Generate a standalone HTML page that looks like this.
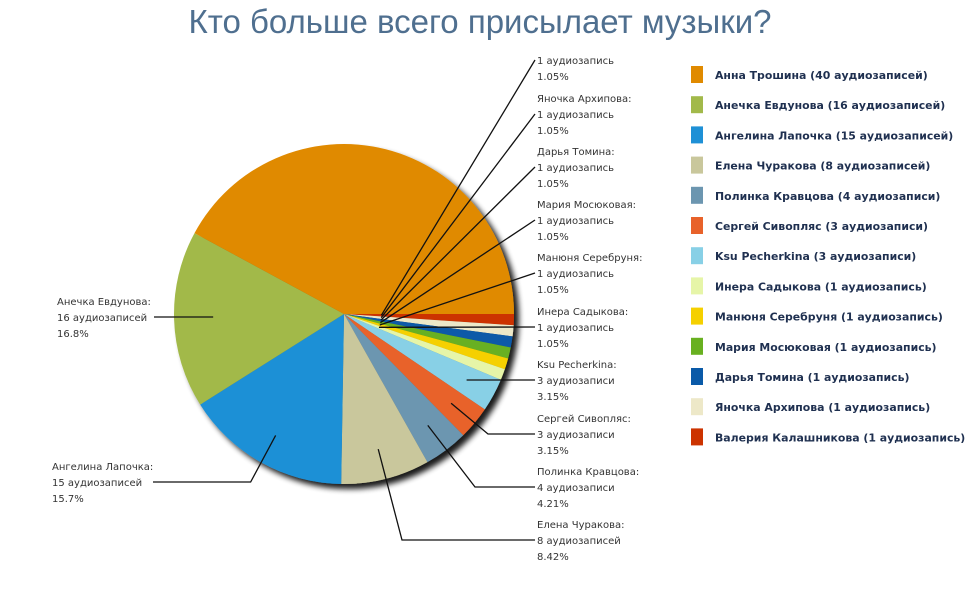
<!DOCTYPE html>
<html><head><meta charset="utf-8">
<style>
body{margin:0;background:#fff;width:966px;height:604px;overflow:hidden;font-family:"DejaVu Sans","Liberation Sans",sans-serif;}
svg{display:block}
</style></head>
<body>
<svg id="chart" width="966" height="604">
<defs>
<filter id="sh" x="-20%" y="-20%" width="150%" height="150%">
<feGaussianBlur in="SourceAlpha" stdDeviation="3"/>
<feOffset dx="5" dy="5" result="b"/>
<feComponentTransfer><feFuncA type="linear" slope="0.9"/></feComponentTransfer>
<feMerge><feMergeNode/><feMergeNode in="SourceGraphic"/></feMerge>
</filter>
</defs>
<text x="480" y="33" text-anchor="middle" font-family="Liberation Sans, sans-serif" font-size="33" fill="#4f6f8f">Кто больше всего присылает музыки?</text>
<g id="pie" filter="url(#sh)"></g>
<g id="lines"></g>
<g id="labels"></g>
<g id="legend"></g>
</svg>
<script>
const names = ["Анна Трошина","Анечка Евдунова","Ангелина Лапочка","Елена Чуракова","Полинка Кравцова","Сергей Сивопляс","Ksu Pecherkina","Инера Садыкова","Манюня Серебруня","Мария Мосюковая","Дарья Томина","Яночка Архипова","Валерия Калашникова"];
const values = [40,16,15,8,4,3,3,1,1,1,1,1,1];
const countLabels = ["40 аудиозаписей","16 аудиозаписей","15 аудиозаписей","8 аудиозаписей","4 аудиозаписи","3 аудиозаписи","3 аудиозаписи","1 аудиозапись","1 аудиозапись","1 аудиозапись","1 аудиозапись","1 аудиозапись","1 аудиозапись"];
const colors = ["#e08a00","#a2b94a","#1e90d6","#c9c79c","#6c96b0","#e8622a","#88d0e6","#e6f5a8","#f5d000","#68b020","#0a5aa8","#ede8c8","#cc3300"];

const NS="http://www.w3.org/2000/svg";
const cx=344, cy=314, R=170;
function mk(t,a,p){const e=document.createElementNS(NS,t);for(const k in a)e.setAttribute(k,a[k]);p.appendChild(e);return e;}
const total=values.reduce((a,b)=>a+b,0);
const pie=document.getElementById('pie'), lines=document.getElementById('lines'), labels=document.getElementById('labels'), legend=document.getElementById('legend');
const n=values.length;
let cum=0; const mids=[];
for(let k=n-1;k>=0;k--){
  const a0=cum/total*2*Math.PI; cum+=values[k]; const a1=cum/total*2*Math.PI;
  mids[k]=(a0+a1)/2;
  const large=(a1-a0)>Math.PI?1:0;
  const d=`M${cx},${cy} L${cx+R*Math.cos(a0)},${cy+R*Math.sin(a0)} A${R},${R} 0 ${large} 1 ${cx+R*Math.cos(a1)},${cy+R*Math.sin(a1)} Z`;
  const p=mk('path',{d:d,fill:colors[k]},pie);
  
  
}
function trunc(v){const pc=v/total*100; if(pc<10) return (Math.floor(pc*100)/100).toFixed(2)+"%"; return (Math.floor(pc*10)/10).toFixed(1)+"%";}
const labelY = {12:44,11:98,10:151,9:204,8:257,7:311,6:364,5:418,4:471,3:524,1:301,2:466};
for(let k=1;k<n;k++){
  const left=(k===1||k===2);
  const lx=left?(k===1?57:52):537;
  const y0=labelY[k];
  const pct=trunc(values[k]);
  const g=mk('g',{},labels);
  
  
  const rows=[names[k]+":",countLabels[k],pct];
  rows.forEach((t,i)=>{ if(k===12&&i===0) return; const tx=mk('text',{x:lx,y:y0+i*16+4,'font-size':10,fill:'#333'},g); tx.textContent=t; });
  const ly=y0+16;
  const rr=values[k]>=3?(k===1?0.77:0.82)*R:0.22*R;
  const ax=cx+rr*Math.cos(mids[k]), ay=cy+rr*Math.sin(mids[k]);
  let pts;
  if(left){ const ex=k===1?154:153; pts=[[ex,ly],[Math.max(ax-25,ex),ly],[ax,ay]]; if(k===1) pts=[[ex,ly],[ax,ly]]; }
  else if(k>=7){ pts=[[535,ly],[ax,ay]]; }
  else if(k===6){ pts=[[535,ly],[ax,ly]]; }
  else { const bx={5:488,4:475,3:402}[k]; pts=[[535,ly],[bx,ly],[ax,ay]]; }
  const l=mk('polyline',{points:pts.map(p=>p.join(',')).join(' '),fill:'none',stroke:'#111','stroke-width':1.3},lines);
  
  
}
for(let k=0;k<n;k++){
  const y=66+k*30.2;
  const g=mk('g',{},legend);
  
  
  mk('rect',{x:691,y:y,width:12,height:17,fill:colors[k]},g);
  const t=mk('text',{x:715,y:y+13,'font-size':10.9,'font-weight':'bold',fill:'#1f3050'},g);
  t.textContent=names[k]+" ("+countLabels[k]+")";
}
</script>
</body></html>
